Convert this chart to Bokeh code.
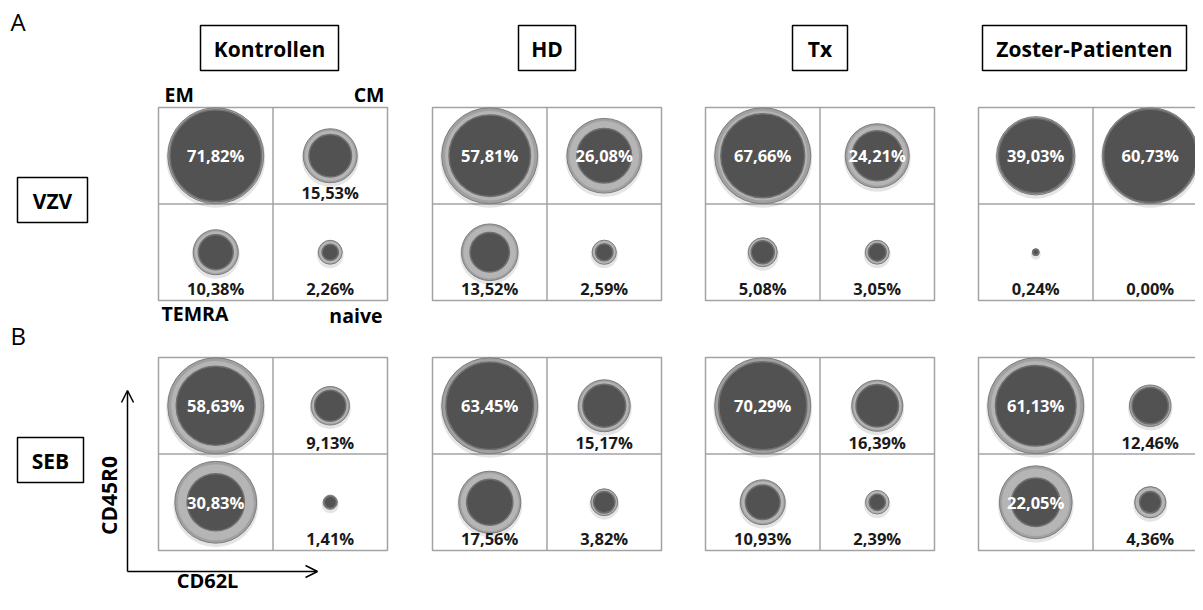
from bokeh.plotting import figure
from bokeh.models import ColumnDataSource, Range1d, Label, Arrow, OpenHead
from bokeh.core.properties import value as pv
from bokeh.embed import file_html
from bokeh.resources import INLINE
import math

# ---------------- data ----------------
groups = ["Kontrollen", "HD", "Tx", "Zoster-Patienten"]
stimuli = ["VZV", "SEB"]
subsets = ["EM", "CM", "TEMRA", "naive"]

# inner (labelled) values, order EM, CM, TEMRA, naive
vzv_kontrollen = [71.82, 15.53, 10.38, 2.26]
vzv_hd = [57.81, 26.08, 13.52, 2.59]
vzv_tx = [67.66, 24.21, 5.08, 3.05]
vzv_zoster = [39.03, 60.73, 0.24, 0.00]
seb_kontrollen = [58.63, 9.13, 30.83, 1.41]
seb_hd = [63.45, 15.17, 17.56, 3.82]
seb_tx = [70.29, 16.39, 10.93, 2.39]
seb_zoster = [61.13, 12.46, 22.05, 4.36]

# outer (light ring) values
vzv_kontrollen_outer = [79.0, 25.0, 17.4, 4.9]
vzv_hd_outer = [80.3, 48.7, 27.9, 5.1]
vzv_tx_outer = [88.6, 39.4, 8.1, 5.5]
vzv_zoster_outer = [42.9, 64.6, 0.34, 0.0]
seb_kontrollen_outer = [86.7, 13.9, 63.0, 1.9]
seb_hd_outer = [76.0, 22.3, 31.8, 6.0]
seb_tx_outer = [83.3, 23.6, 18.2, 5.0]
seb_zoster_outer = [86.7, 16.2, 49.8, 9.2]

values = {
    "VZV": [vzv_kontrollen, vzv_hd, vzv_tx, vzv_zoster],
    "SEB": [seb_kontrollen, seb_hd, seb_tx, seb_zoster],
}
outers = {
    "VZV": [vzv_kontrollen_outer, vzv_hd_outer, vzv_tx_outer, vzv_zoster_outer],
    "SEB": [seb_kontrollen_outer, seb_hd_outer, seb_tx_outer, seb_zoster_outer],
}

# ---------------- layout ----------------
W, H = 1195, 594
FONT = "Open Sans"
p = figure(width=W, height=H, output_backend="svg", toolbar_location=None,
           x_range=Range1d(0, W), y_range=Range1d(H, 0),
           min_border=0, outline_line_color=None, background_fill_color="white")
p.xaxis.visible = False
p.yaxis.visible = False
p.xgrid.visible = False
p.ygrid.visible = False

panel_left = [158, 432, 705, 978]
row_top = {"VZV": 107, "SEB": 357}
CW, CH = 114.5, 96.5
RMAX = 48.0
cell_pos = [(0, 0), (1, 0), (0, 1), (1, 1)]  # EM, CM, TEMRA, naive

# grids
gl, gr, gt, gb = [], [], [], []
sx0, sx1, sy0, sy1 = [], [], [], []
for s in stimuli:
    for L in panel_left:
        T = row_top[s]
        gl.append(L); gr.append(L + 2 * CW); gt.append(T); gb.append(T + 2 * CH)
        sx0 += [L + CW, L]; sx1 += [L + CW, L + 2 * CW]
        sy0 += [T, T + CH]; sy1 += [T + 2 * CH, T + CH]
p.quad(left=gl, right=gr, top=gt, bottom=gb, fill_color=None,
       line_color="#a3a3a3", line_width=1.5)
p.segment(x0=sx0, y0=sy0, x1=sx1, y1=sy1, line_color="#a3a3a3", line_width=1.5)

# bubbles
bx, by, r_in, r_out = [], [], [], []
tx_in, ty_in, lab_in = [], [], []
tx_out, ty_out, lab_out = [], [], []
for s in stimuli:
    for gi, L in enumerate(panel_left):
        vals = values[s][gi]
        outs = outers[s][gi]
        k = RMAX / math.sqrt(max(outs))
        T = row_top[s]
        for si, (c, r) in enumerate(cell_pos):
            cx = L + CW * (c + 0.5)
            cy = T + CH * (r + 0.5)
            v = vals[si]
            bx.append(cx); by.append(cy)
            r_in.append(k * math.sqrt(v))
            r_out.append(k * math.sqrt(outs[si]))
            txt = f"{v:.2f}".replace(".", ",") + "%"
            if v >= 20:
                tx_in.append(cx); ty_in.append(cy); lab_in.append(txt)
            else:
                tx_out.append(cx); ty_out.append(T + CH * (r + 1) - 12); lab_out.append(txt)

src = ColumnDataSource(dict(x=bx, y=by, rin=r_in, rout=r_out,
                            rsh=[ro + 1.5 if ro > 0 else 0 for ro in r_out],
                            rhl=[ro * 0.93 for ro in r_out],
                            ysh=[y + 2.5 for y in by]))
p.circle(x="x", y="ysh", radius="rsh", source=src, fill_color="#000000",
         fill_alpha=0.10, line_color=None)
p.circle(x="x", y="y", radius="rout", source=src, fill_color="#a0a0a0",
         line_color="#7d7d7d", line_width=1)
p.circle(x="x", y="y", radius="rhl", source=src, fill_color="#bababa",
         line_color=None, fill_alpha=0.8)
p.circle(x="x", y="y", radius="rin", source=src, fill_color="#525252",
         line_color="#6f6f6f", line_width=1.5)

p.text(x=tx_in, y=ty_in, text=lab_in, text_color="white", text_font_size="16.5px",
       text_font_style="bold", text_font=pv(FONT),
       text_align="center", text_baseline="middle")
p.text(x=tx_out, y=ty_out, text=lab_out, text_color="#1a1a1a", text_font_size="16.5px",
       text_font_style="bold", text_font=pv(FONT),
       text_align="center", text_baseline="middle")

# title boxes
box_l = [200, 518, 792, 982, 17, 17]
box_r = [338, 575, 847, 1186, 87, 83]
box_t = [25, 25, 25, 25, 177, 437]
box_b = [70, 70, 70, 70, 222, 482]
box_txt = groups + stimuli
p.quad(left=box_l, right=box_r, top=box_t, bottom=box_b, fill_color="white",
       line_color="black", line_width=1.5)
p.text(x=[(a + b) / 2 for a, b in zip(box_l, box_r)],
       y=[(a + b) / 2 + 1 for a, b in zip(box_t, box_b)], text=box_txt,
       text_font=pv(FONT), text_font_style="bold", text_font_size="21px",
       text_color="black", text_align="center", text_baseline="middle")

def lab(x, y, t, size, align="left", bold=True, angle=0.0, baseline="middle"):
    p.add_layout(Label(x=x, y=y, text=t, text_font=FONT, text_font_size=size,
                       text_font_style="bold" if bold else "normal",
                       text_align=align, text_baseline=baseline, angle=angle,
                       text_color="black"))

lab(10, 21, "A", "24px", bold=False)
lab(10, 335, "B", "24px", bold=False)
lab(164, 94, subsets[0], "19.5px")
lab(384, 94, subsets[1], "19.5px", align="right")
lab(161, 313, subsets[2], "19.5px")
lab(382, 315, subsets[3], "19.5px", align="right")
lab(108, 495, "CD45R0", "21px", align="center", angle=math.pi / 2)
lab(207, 593, "CD62L", "20px", align="center", baseline="bottom")

p.add_layout(Arrow(end=OpenHead(size=12, line_width=1.5), x_start=127, y_start=571,
                   x_end=127, y_end=390, line_width=1.5))
p.add_layout(Arrow(end=OpenHead(size=12, line_width=1.5), x_start=127, y_start=571,
                   x_end=317, y_end=571, line_width=1.5))

open("out.html", "w").write(file_html(p, INLINE))
